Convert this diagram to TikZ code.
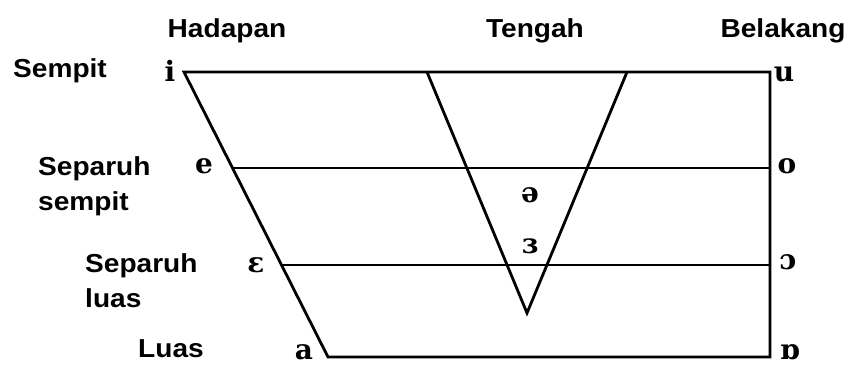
\documentclass[tikz,border=0pt]{standalone}
\usepackage{fontspec}
\setmainfont{Liberation Sans}
\newfontfamily\lblfont[FakeStretch=1.08]{Liberation Sans}
\newfontfamily\ipafont{DejaVu Serif}
\usetikzlibrary{positioning}
\tikzset{
    % Lines
    chart/.style={line width=2.8pt, line join=miter, line cap=butt},
    % Labels
    colLbl/.style={font=\lblfont\bfseries\fontsize{26}{35}\selectfont, inner sep=0pt, anchor=base},
    rowLbl/.style={font=\lblfont\bfseries\fontsize{26}{35}\selectfont, inner sep=0pt, align=left, anchor=north west},
    vowel/.style={font=\ipafont\bfseries\fontsize{28}{30}\selectfont, inner sep=0pt, anchor=base}
}

\begin{document}
\begin{tikzpicture}[x=1pt, y=-1pt]
\useasboundingbox (0,0) rectangle (850,365);

% Corners of the chart
\coordinate (iC) at (184,72);
\coordinate (uC) at (770,72);
\coordinate (eC) at (232,168);
\coordinate (oC) at (770,168);
\coordinate (epsC) at (281,265);
\coordinate (openoC) at (770,265);
\coordinate (aC) at (328,357);
\coordinate (turnaC) at (770,357);
\coordinate (vL) at (427,72);
\coordinate (vR) at (627,72);
\coordinate (vB) at (527,313);

% Chart
\draw[chart] (iC) -- (uC) -- (turnaC) -- (aC) -- cycle;
\draw[chart] (eC) -- (oC);
\draw[chart] (epsC) -- (openoC);
\draw[chart] (vL) -- (vB) -- (vR);

% Column labels
\node[colLbl] (front) at (227,37) {Hadapan};
\node[colLbl] (central) at (535,37) {Tengah};
\node[colLbl] (back) at (783,37) {Belakang};

% Row labels
\node[rowLbl, anchor=base west] (close) at (13,77) {Sempit};
\node[rowLbl] (closeMid) at (38,156) {Separuh\\sempit};
\node[rowLbl] (openMid) at (85,253) {Separuh\\luas};
\node[rowLbl, anchor=base west] (open) at (138,357) {Luas};

% Vowels
\node[vowel] (i) at (170,81) {i};
\node[vowel] (e) at (204,173) {e};
\node[vowel] (eps) at (256,272) {ɛ};
\node[vowel] (a) at (304,359) {a};
\node[vowel] (u) at (784,81) {u};
\node[vowel] (o) at (787,173) {o};
\node[vowel] (openo) at (788,269) {ɔ};
\node[vowel] (turna) at (790,359) {ɒ};
\node[vowel] (schwa) at (530,202) {ə};
\node[vowel] (revEps) at (530,253) {ɜ};

\end{tikzpicture}
\end{document}
